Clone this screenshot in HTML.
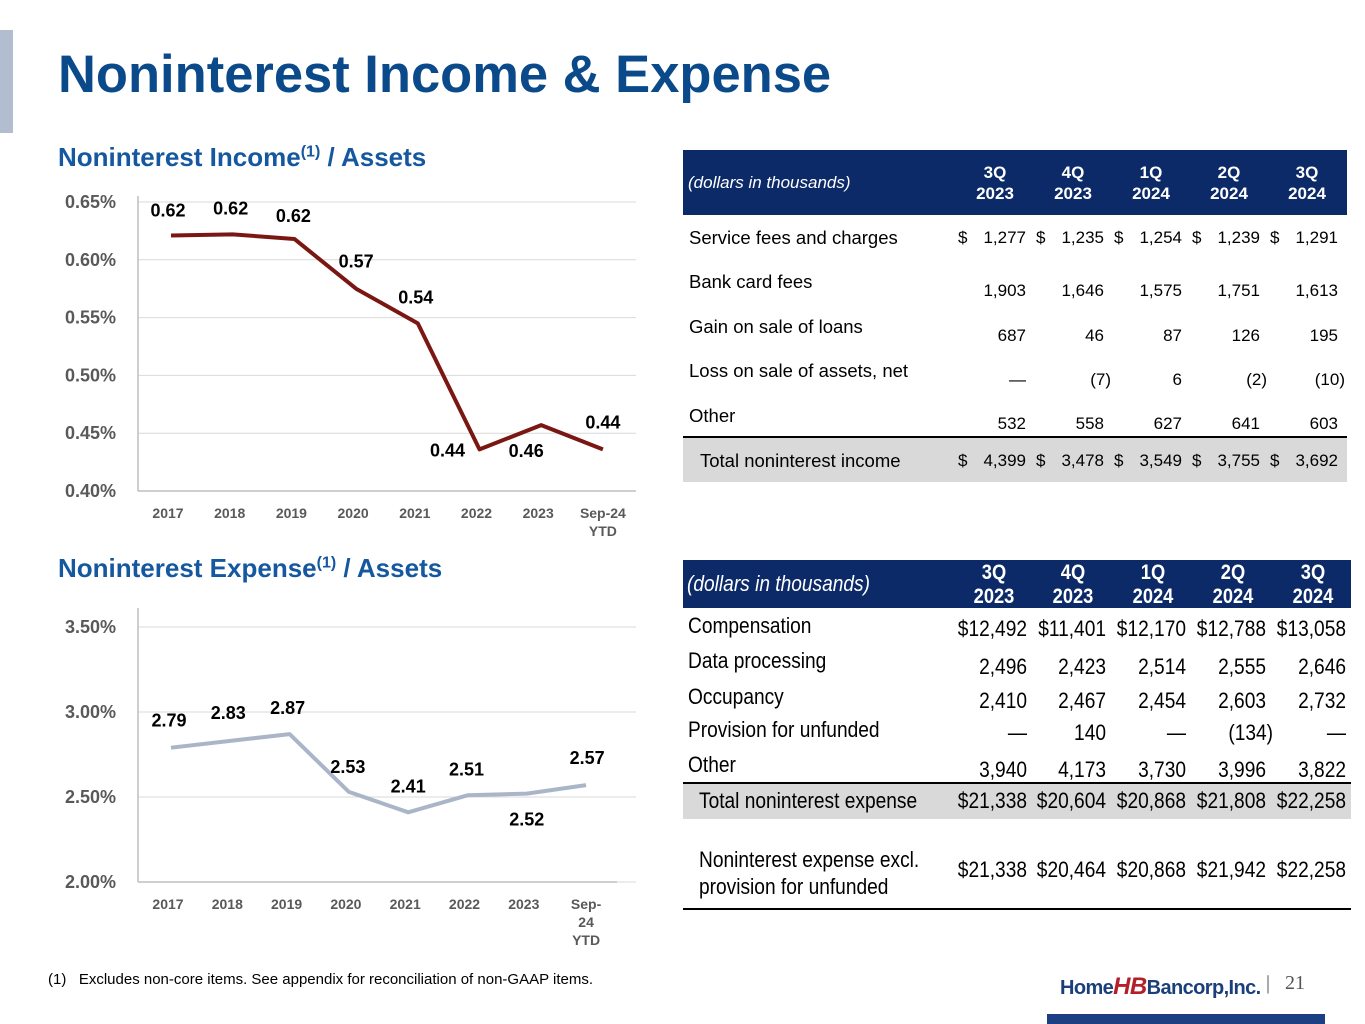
<!DOCTYPE html>
<html><head><meta charset="utf-8"><style>
body{margin:0;width:1365px;height:1024px;background:#fff;position:relative;overflow:hidden;font-family:"Liberation Sans",sans-serif;}
.a{position:absolute;white-space:nowrap}
.t{color:#000;font-size:18.5px}
.hd{position:absolute;background:#0c2a68;color:#fff}
.hc{position:absolute;font-weight:bold;font-size:17px;text-align:center;width:60px;line-height:21px}
.n{position:absolute;font-size:17px;color:#000;text-align:right;width:90px;white-space:nowrap}
.cd{font-size:22px;transform:scaleX(.87);transform-origin:left center;color:#000}
.cn{position:absolute;font-size:22px;color:#000;text-align:right;width:110px;white-space:nowrap;transform:scaleX(.87);transform-origin:right center}
.ch{position:absolute;font-weight:bold;font-size:21px;text-align:center;width:80px;line-height:24px;color:#fff;transform:scaleX(.87)}
</style></head><body>
<div class="a" style="left:0;top:30px;width:13px;height:103px;background:#b2bdd0"></div>
<div class="a" style="left:58px;top:44px;font-size:52.5px;font-weight:bold;color:#0b4a8a">Noninterest Income &amp; Expense</div>
<div class="a" style="left:58px;top:142px;font-size:26px;font-weight:bold;color:#1558a0">Noninterest Income<sup style="font-size:16px">(1)</sup> / Assets</div>
<div class="a" style="left:58px;top:553px;font-size:26px;font-weight:bold;color:#1558a0">Noninterest Expense<sup style="font-size:16px">(1)</sup> / Assets</div>
<svg id="c1" class="a" style="left:0;top:0" width="680" height="1024"></svg>

<div class="hd" style="left:683px;top:150px;width:664px;height:65px"></div>
<div class="hd" style="left:683px;top:560px;width:668px;height:48px"></div>
<div id="tbl"></div>

<div class="a" style="left:48px;top:971px;font-size:15px;color:#000">(1)&nbsp;&nbsp; Excludes non-core items. See appendix for reconciliation of non-GAAP items.</div>
<div class="a" style="left:1060px;top:973px;font-size:20px;font-weight:bold;color:#1a3f7a;letter-spacing:-0.6px">Home<span style="color:#b3202b;font-style:italic;font-size:24px">HB</span>Bancorp,Inc.</div>
<div class="a" style="left:1266px;top:972px;font-size:20px;color:#555;font-family:'Liberation Serif',serif">|&nbsp;&nbsp; 21</div>
<div class="a" style="left:1047px;top:1014px;width:278px;height:10px;background:#1b3f82"></div>

<script>
const NS="http://www.w3.org/2000/svg";
const svg=document.getElementById('c1');
function mk(tag,at,txt){const e=document.createElementNS(NS,tag);for(const k in at)e.setAttribute(k,at[k]);if(txt!==undefined)e.textContent=txt;svg.appendChild(e);return e;}
const incCats=["2017","2018","2019","2020","2021","2022","2023","Sep-24|YTD"];
const incVals=[0.621,0.622,0.618,0.575,0.545,0.436,0.457,0.436];
const incLabels=["0.62","0.62","0.62","0.57","0.54","0.44","0.46","0.44"];
const incTicks=[0.40,0.45,0.50,0.55,0.60,0.65];
const expCats=["2017","2018","2019","2020","2021","2022","2023","Sep-|24|YTD"];
const expVals=[2.79,2.83,2.87,2.53,2.41,2.51,2.52,2.57];
const expLabels=["2.79","2.83","2.87","2.53","2.41","2.51","2.52","2.57"];
const expTicks=[2.00,2.50,3.00,3.50];

function chart(o){
  const y=v=>o.y0+(v-o.min)/(o.max-o.min)*(o.y1-o.y0);
  const x=i=>o.x0+i*o.dx;
  o.ticks.forEach(t=>{
    const g=mk('line',{x1:138,x2:636,y1:y(t),y2:y(t),stroke:'#d9d9d9','stroke-width':1});
    
    const l=mk('text',{x:116,y:y(t)+6,'text-anchor':'end','font-size':18,'font-weight':'bold',fill:'#595959'},t.toFixed(2)+'%');
    
  });
  const ax=mk('line',{x1:138,x2:o.axR,y1:o.y0,y2:o.y0,stroke:'#bfbfbf','stroke-width':1.5});
  
  const ay=mk('line',{x1:138,x2:138,y1:o.axT,y2:o.y0,stroke:'#bfbfbf','stroke-width':1.5});
  
  const p=mk('polyline',{points:o.vals.map((v,i)=>x(i)+','+y(v)).join(' '),fill:'none',stroke:o.color,'stroke-width':4,'stroke-linejoin':'round'});
  
  o.cats.forEach((c,i)=>{
    c.split('|').forEach((s,j)=>{
      const t=mk('text',{x:x(i)-3+(o.catShift[i]||0),y:o.y0+27+j*18,'text-anchor':'middle','font-size':14,'font-weight':'bold',fill:'#595959'},s);
      
    });
    const lb=mk('text',{x:x(i)+o.lx[i],y:y(o.vals[i])+o.ly[i],'text-anchor':'middle','font-size':18,'font-weight':'bold',fill:'#000'},o.labels[i]);
    
  });
}
chart({cats:incCats,vals:incVals,labels:incLabels,ticks:incTicks,min:0.40,max:0.65,y0:491,y1:202,x0:171,dx:61.7,color:'#7b1712',axR:636,axT:196,
  lx:[-3,-2,-1,0,-2,-32,-15,0],ly:[-19,-20,-17,-21,-20,7,32,-21],catShift:[0,0,0,0,0,0,0,3]});
chart({cats:expCats,vals:expVals,labels:expLabels,ticks:expTicks,min:2.00,max:3.50,y0:882,y1:627,x0:171,dx:59.3,color:'#aab6c7',axR:617,axT:608,
  lx:[-2,-2,-2,-1,0,-1,0,1],ly:[-21,-22,-20,-19,-20,-20,32,-21],catShift:[0,0,0,0,0,0,0,3]});

const tb=document.getElementById('tbl');
function div(cls,style,txt,name){const d=document.createElement('div');d.className=cls;d.setAttribute('style',style);d.innerHTML=txt;


tb.appendChild(d);return d;}
const qHead=["3Q|2023","4Q|2023","1Q|2024","2Q|2024","3Q|2024"];
// income table
const incRows=[["Service fees and charges",["1,277","1,235","1,254","1,239","1,291"],238,238,true],
["Bank card fees",["1,903","1,646","1,575","1,751","1,613"],282,291,false],
["Gain on sale of loans",["687","46","87","126","195"],327,336,false],
["Loss on sale of assets, net",["—","(7)","6","(2)","(10)"],371,380,false],
["Other",["532","558","627","641","603"],416,424,false]];
const incTot=["4,399","3,478","3,549","3,755","3,692"];
const c1R=[1026,1104,1182,1260,1338];
div('a',"left:688px;top:173px;font-size:17px;font-style:italic;color:#fff",'(dollars in thousands)','income-table-unit');
qHead.forEach((q,i)=>div('hc',`left:${c1R[i]-61}px;top:162px;color:#fff`,q.replace('|','<br>'),'income-col-header'));
div('a',`left:683px;top:438px;width:664px;height:44px;background:#d9d9d9`,'','income-total-row');
div('a',`left:683px;top:436px;width:664px;height:2px;background:#000`,'','income-total-rule');
function cellsInc(vals,yc,dollar,name){
  vals.forEach((v,i)=>{
    div('n',`left:${c1R[i]-90+(v.startsWith('(')?7:0)}px;top:${yc-10}px`,v,name);
    if(dollar)div('a',`left:${c1R[i]-68}px;top:${yc-10}px;font-size:17px`,'$',name+'-dollar');});
}
incRows.forEach(r=>{div('a t',`left:689px;top:${r[2]-11}px`,r[0],'income-row-label');cellsInc(r[1],r[3],r[4],'income-value');});
div('a t',`left:700px;top:450px`,'Total noninterest income','income-total-label');
cellsInc(incTot,461,true,'income-total-value');
// expense table
const c2R=[1027,1106,1186,1266,1346];
div('a cd',"left:687px;top:571px;font-style:italic;color:#fff",'(dollars in thousands)','expense-table-unit');
qHead.forEach((q,i)=>div('ch',`left:${[994,1073,1153,1233,1313][i]-40}px;top:561px`,q.replace('|','<br>'),'expense-col-header'));
const expRows=[["Compensation",["$12,492","$11,401","$12,170","$12,788","$13,058"],626,629],
["Data processing",["2,496","2,423","2,514","2,555","2,646"],661,667],
["Occupancy",["2,410","2,467","2,454","2,603","2,732"],697,701],
["Provision for unfunded",["—","140","—","(134)","—"],730,733],
["Other",["3,940","4,173","3,730","3,996","3,822"],765,770]];
div('a',`left:683px;top:783px;width:668px;height:36px;background:#d9d9d9`,'','expense-total-row');
div('a',`left:683px;top:782px;width:668px;height:2px;background:#000`,'','expense-total-rule');
div('a',`left:683px;top:908px;width:668px;height:2px;background:#000`,'','expense-bottom-rule');
function cellsExp(vals,yc,name){vals.forEach((v,i)=>div('cn',`left:${c2R[i]-110+(v.startsWith('(')?7:0)}px;top:${yc-13}px`,v,name));}
expRows.forEach(r=>{div('a cd',`left:688px;top:${r[2]-13}px`,r[0],'expense-row-label');cellsExp(r[1],r[3],'expense-value');});
div('a cd',`left:699px;top:788px`,'Total noninterest expense','expense-total-label');
cellsExp(["$21,338","$20,604","$20,868","$21,808","$22,258"],801,'expense-total-value');
div('a cd',`left:699px;top:846px;line-height:27px`,'Noninterest expense excl.<br>provision for unfunded','expense-excl-label');
cellsExp(["$21,338","$20,464","$20,868","$21,942","$22,258"],870,'expense-excl-value');
</script>
</body></html>
